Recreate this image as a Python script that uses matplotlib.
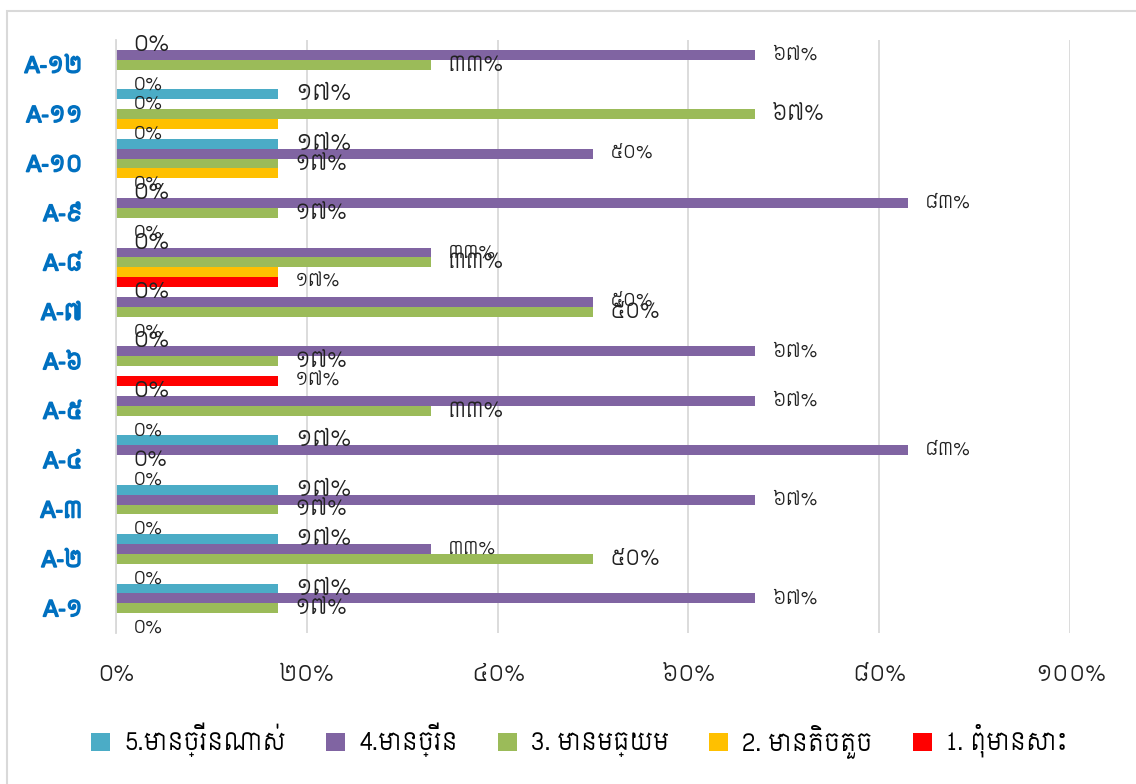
import matplotlib
matplotlib.use('Agg')
import matplotlib.pyplot as plt
import matplotlib.patheffects as pe
from matplotlib.patches import Rectangle
from matplotlib.ticker import FuncFormatter

# categories bottom -> top
cats = ['A-១', 'A-២', 'A-៣', 'A-៤', 'A-៥', 'A-៦', 'A-៧', 'A-៨', 'A-៩', 'A-១០', 'A-១១', 'A-១២']
s5 = [17, 17, 17, 17, 0, 0, 0, 0, 0, 17, 17, 0]      # 5.មានច្រើនណាស់
s4 = [67, 33, 67, 83, 67, 67, 50, 33, 83, 50, 0, 67]   # 4.មានច្រើន
s3 = [17, 50, 17, 0, 33, 17, 50, 33, 17, 17, 67, 33]   # 3. មានមធ្យម
s2 = [0, 0, 0, 0, 0, 0, 0, 17, 0, 17, 17, 0]           # 2. មានតិចតួច
s1 = [0, 0, 0, 0, 0, 17, 0, 17, 0, 0, 0, 0]            # 1. ពុំមានសោះ
names = ['5.មានច្រើនណាស់', '4.មានច្រើន', '3. មានមធ្យម', '2. មានតិចតួច', '1. ពុំមានសោះ']
colors = ['#4BACC6', '#8064A2', '#9BBB59', '#FFC000', '#FF0000']

plt.rcParams['font.family'] = ['Siemreap', 'DejaVu Sans']

kdig = str.maketrans('0123456789', '០១២៣៤៥៦៧៨៩')
def kpct(v):
    return ('%d%%' % round(v)).translate(kdig)

fig = plt.figure(figsize=(11.36, 7.84), dpi=100)
ax = fig.add_axes([116/1136, 1-633/784, 954/1136, 593/784])

series = [s5, s4, s3, s2, s1]
offs = [0.4, 0.2, 0.0, -0.2, -0.4]
lab_size = [16, 13, 15, None, 13]   # yellow series carries no labels
y = list(range(len(cats)))
for vals, off, c, nm, fs in zip(series, offs, colors, names, lab_size):
    yy = [i + off for i in y]
    ax.barh(yy, [v/100 for v in vals], height=0.2, color=c, label=nm)
    if fs is None:
        continue
    for v, yv in zip(vals, yy):
        ax.annotate(kpct(v), (v/100, yv), xytext=(12, 0), textcoords='offset points',
                    ha='left', va='center', fontsize=fs, color='#222222')

ax.set_xlim(0, 1)
ax.set_ylim(-0.5, 11.5)
ax.set_xticks([0, 0.2, 0.4, 0.6, 0.8, 1.0])
ax.xaxis.set_major_formatter(FuncFormatter(lambda x, p: kpct(x*100)))
ax.set_yticks(y)
ax.set_yticklabels(cats, color='#0070C0', fontsize=16,
                   path_effects=[pe.withStroke(linewidth=1.2, foreground='#0070C0')])
ax.tick_params(axis='both', length=0)
ax.tick_params(axis='x', labelsize=16, pad=23, colors='#222222')
ax.tick_params(axis='y', pad=24)
ax.grid(axis='x', color='#D9D9D9', lw=1.3)
ax.set_axisbelow(True)
for s in ['top', 'right', 'bottom']:
    ax.spines[s].set_visible(False)
ax.spines['left'].set_color('#D9D9D9')
ax.spines['left'].set_linewidth(1.3)

fig.legend(loc='center', bbox_to_anchor=(0.51, 0.056), ncol=5, frameon=False,
           fontsize=17, handlelength=0.8, handleheight=0.8, handletextpad=0.6,
           columnspacing=1.7)

fig.patches.append(Rectangle((7/1136, -0.1), 2, 1.1 - 11/784, transform=fig.transFigure,
                             fill=False, ec='#D9D9D9', lw=1.5))

fig.savefig('out.png', dpi=100)
